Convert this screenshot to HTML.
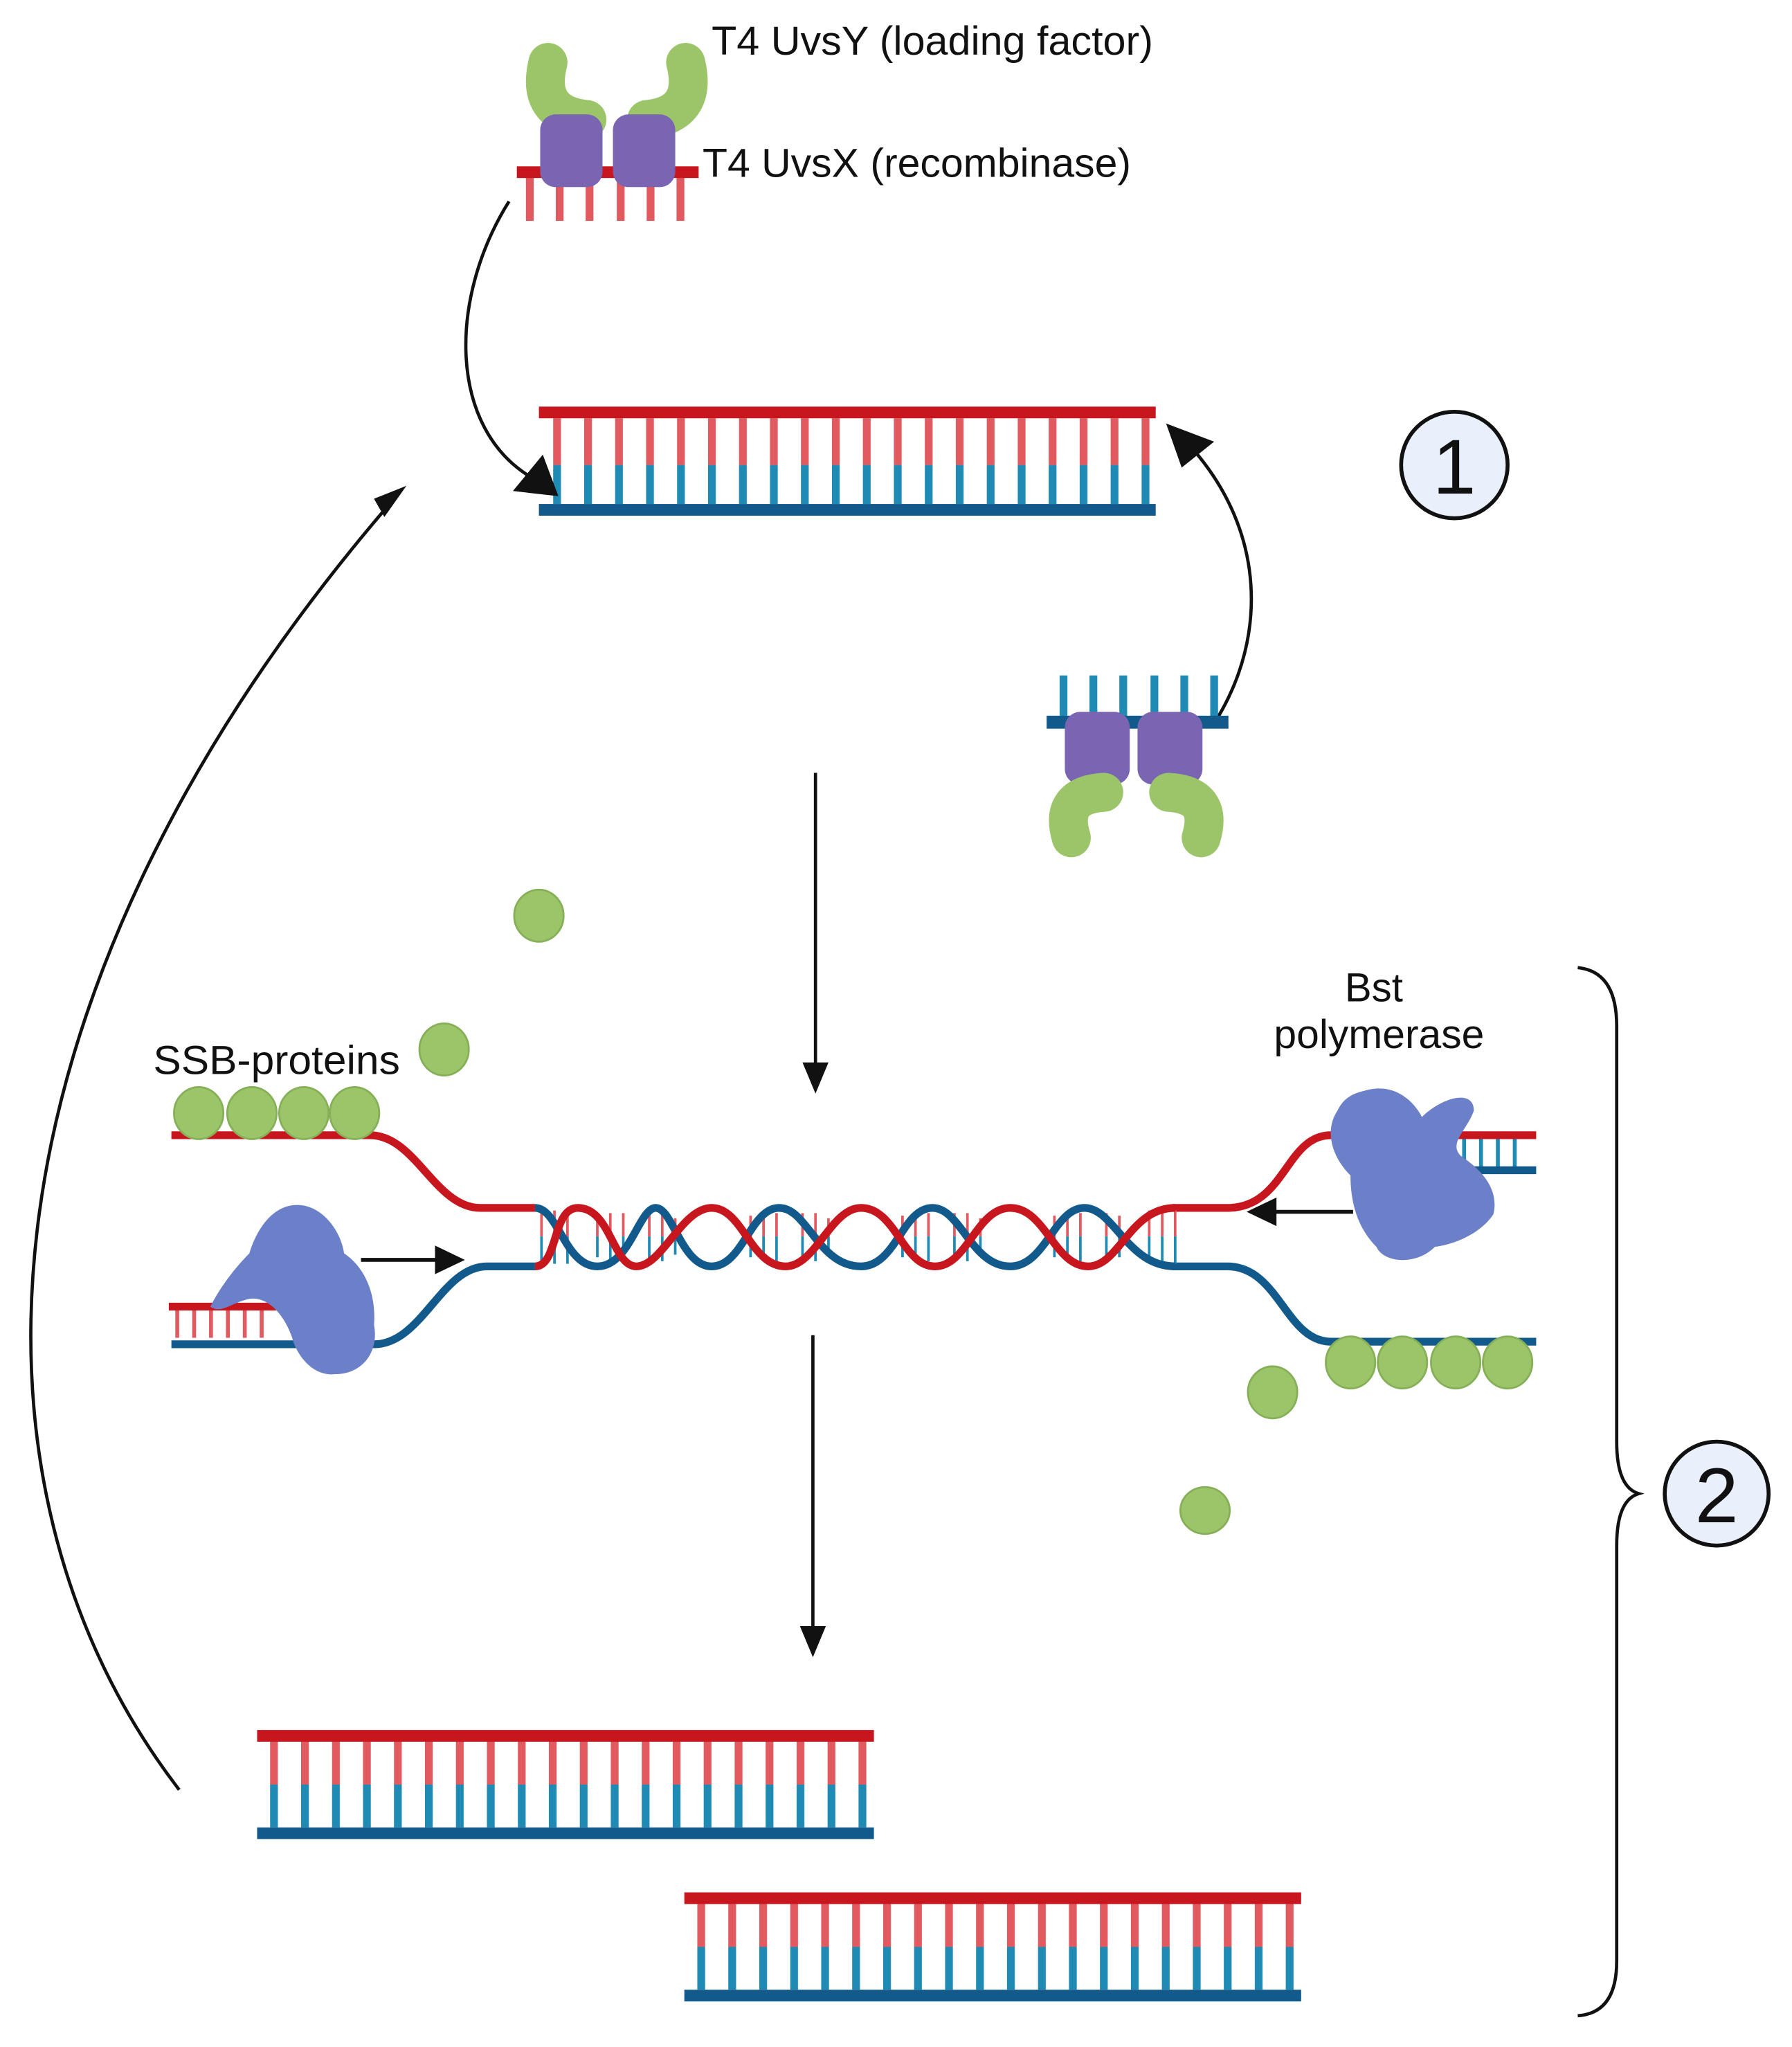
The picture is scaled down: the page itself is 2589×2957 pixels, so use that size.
<!DOCTYPE html>
<html><head><meta charset="utf-8"><style>
html,body{margin:0;padding:0;background:#fff}
svg{display:block}
text{font-family:"Liberation Sans",sans-serif;fill:#111}
</style></head><body>
<svg width="2589" height="2957" viewBox="0 0 1380 1576" xmlns="http://www.w3.org/2000/svg">
<defs>
<pattern id="ds" patternUnits="userSpaceOnUse" width="23.85" height="74" x="426" y="322">
<rect x="0" y="0" width="6" height="36" fill="#e05a5f"/>
<rect x="0" y="36" width="6" height="38" fill="#1f8bb5"/>
</pattern>
<pattern id="ds2" patternUnits="userSpaceOnUse" width="23.85" height="66" x="208" y="1341">
<rect x="0" y="0" width="6" height="33" fill="#e05a5f"/>
<rect x="0" y="33" width="6" height="33" fill="#1f8bb5"/>
</pattern>
<pattern id="ds3" patternUnits="userSpaceOnUse" width="23.85" height="66" x="537" y="1466">
<rect x="0" y="0" width="6" height="33" fill="#e05a5f"/>
<rect x="0" y="33" width="6" height="33" fill="#1f8bb5"/>
</pattern>
</defs>

<!-- labels -->
<text x="548" y="42" font-size="31" textLength="340" lengthAdjust="spacingAndGlyphs">T4 UvsY (loading factor)</text>
<text x="541" y="136" font-size="31" textLength="330" lengthAdjust="spacingAndGlyphs">T4 UvsX (recombinase)</text>
<text x="118" y="827" font-size="31" textLength="190" lengthAdjust="spacingAndGlyphs">SSB-proteins</text>
<text x="1058" y="771" font-size="31" text-anchor="middle">Bst</text>
<text x="1062" y="807" font-size="31" text-anchor="middle" textLength="162" lengthAdjust="spacingAndGlyphs">polymerase</text>

<!-- top primer -->
<g fill="#e05a5f">
<rect x="405" y="136" width="6" height="34"/><rect x="428" y="136" width="6" height="34"/><rect x="451" y="136" width="6" height="34"/><rect x="475" y="136" width="6" height="34"/><rect x="498" y="136" width="6" height="34"/><rect x="521" y="136" width="6" height="34"/>
</g>
<rect x="398" y="128" width="140" height="9" fill="#c8161e"/>
<path d="M422,48 Q412,88 452,92" stroke="#9cc56a" stroke-width="30" fill="none" stroke-linecap="round"/>
<path d="M528,48 Q538,88 498,92" stroke="#9cc56a" stroke-width="30" fill="none" stroke-linecap="round"/>
<rect x="416" y="88" width="48" height="56" rx="12" fill="#7a65b3"/>
<rect x="472" y="88" width="48" height="56" rx="12" fill="#7a65b3"/>

<!-- main ds DNA -->
<rect x="425" y="322" width="465" height="66" fill="url(#ds)"/>
<rect x="415" y="313" width="475" height="9" fill="#c8161e"/>
<rect x="415" y="388" width="475" height="9" fill="#125a8c"/>

<!-- curved arrows top -->
<path d="M392,155 C345,230 345,330 410,368" stroke="#111" stroke-width="2.5" fill="none"/>
<polygon points="430,382 395,378 418,350" fill="#111"/>
<path d="M938,552 C975,490 975,410 918,345" stroke="#111" stroke-width="2.5" fill="none"/>
<polygon points="898,326 935,340 910,360" fill="#111"/>

<!-- circle 1 -->
<circle cx="1120" cy="358" r="41" fill="#eaf0fb" stroke="#111" stroke-width="3"/>
<text x="1120" y="380" font-size="60" text-anchor="middle">1</text>

<!-- bottom-right primer -->
<g fill="#1f8bb5">
<rect x="816" y="520" width="6" height="34"/><rect x="839" y="520" width="6" height="34"/><rect x="862" y="520" width="6" height="34"/><rect x="886" y="520" width="6" height="34"/><rect x="909" y="520" width="6" height="34"/><rect x="932" y="520" width="6" height="34"/>
</g>
<rect x="806" y="551" width="140" height="10" fill="#125a8c"/>
<rect x="820" y="548" width="50" height="56" rx="12" fill="#7a65b3"/>
<rect x="876" y="548" width="50" height="56" rx="12" fill="#7a65b3"/>
<path d="M850,610 Q815,612 825,645" stroke="#9cc56a" stroke-width="30" fill="none" stroke-linecap="round"/>
<path d="M900,610 Q935,612 925,645" stroke="#9cc56a" stroke-width="30" fill="none" stroke-linecap="round"/>

<!-- down arrows -->
<line x1="628" y1="595" x2="628" y2="820" stroke="#111" stroke-width="2.5"/>
<polygon points="618,818 638,818 628,842" fill="#111"/>
<line x1="626" y1="1028" x2="626" y2="1255" stroke="#111" stroke-width="2.5"/>
<polygon points="616,1252 636,1252 626,1276" fill="#111"/>

<!-- big left arc -->
<path d="M138,1378 C-45,1140 -20,760 300,388" stroke="#111" stroke-width="2.5" fill="none"/>
<polygon points="313,374 296,398 288,384" fill="#111"/>

<!-- brace -->
<path d="M1215,745 Q1245,748 1245,790 L1245,1110 Q1245,1145 1262,1150 Q1245,1155 1245,1190 L1245,1510 Q1245,1550 1215,1552" stroke="#111" stroke-width="2.5" fill="none"/>
<circle cx="1322" cy="1150" r="40" fill="#eaf0fb" stroke="#111" stroke-width="3"/>
<text x="1322" y="1172" font-size="60" text-anchor="middle">2</text>

<!-- fork strands -->
<path d="M132,874 L285,874 C320,874 335,930 370,930 L412,930" stroke="#c8161e" stroke-width="6" fill="none"/>
<path d="M132,1035 L288,1035 C325,1035 340,975 375,975 L412,975" stroke="#125a8c" stroke-width="6" fill="none"/>
<path d="M903,930 L945,930 C990,930 990,874 1025,874 L1183,874" stroke="#c8161e" stroke-width="6" fill="none"/>
<path d="M903,975 L945,975 C985,975 990,1033 1025,1033 L1183,1033" stroke="#125a8c" stroke-width="6" fill="none"/>
<!-- helix rungs -->
<g stroke-width="2">
<path d="M417,932 V952 M427,932 V952 M437,932 V952 M885,932 V952 M895,932 V952 M905,932 V952 M460,936 V952 M470,934 V952 M480,934 V952 M500,934 V952 M510,934 V952 M520,938 V952 M578,936 V952 M588,934 V952 M598,934 V952 M618,934 V952 M628,934 V952 M638,938 V952 M695,936 V952 M705,934 V952 M715,934 V952 M735,934 V952 M745,934 V952 M755,938 V952 M812,936 V952 M822,934 V952 M832,934 V952 M852,934 V952 M862,936 V952" stroke="#e05a5f"/>
<path d="M417,952 V973 M427,952 V973 M437,952 V973 M885,952 V973 M895,952 V973 M905,952 V973 M460,952 V968 M470,952 V971 M480,952 V971 M500,952 V971 M510,952 V971 M520,952 V966 M578,952 V968 M588,952 V971 M598,952 V971 M618,952 V971 M628,952 V971 M638,952 V966 M695,952 V968 M705,952 V971 M715,952 V971 M735,952 V971 M745,952 V971 M755,952 V966 M812,952 V968 M822,952 V971 M832,952 V971 M852,952 V971 M862,952 V968" stroke="#1f8bb5"/>
</g>
<path d="M412,930 C430,930 435,975 460,975 C485,975 492,930 505,930 C518,930 525,975 548,975 C572,975 578,930 600,930 C622,930 630,975 663,975 C690,975 695,930 718,930 C740,930 748,975 778,975 C805,975 812,930 835,930 C858,930 868,975 905,975" stroke="#125a8c" stroke-width="6" fill="none"/>
<path d="M412,975 C430,975 425,930 445,930 C470,930 472,975 490,975 C510,975 525,930 548,930 C572,930 578,975 605,975 C628,975 640,930 663,930 C690,930 695,975 720,975 C745,975 752,930 778,930 C805,930 812,975 838,975 C862,975 870,930 905,930" stroke="#c8161e" stroke-width="6" fill="none"/>

<!-- left primer at fork -->
<g fill="#e05a5f">
<rect x="135" y="1008" width="3" height="22"/><rect x="148" y="1008" width="3" height="22"/><rect x="161" y="1008" width="3" height="22"/><rect x="174" y="1008" width="3" height="22"/><rect x="187" y="1008" width="3" height="22"/><rect x="200" y="1008" width="3" height="22"/>
</g>
<rect x="130" y="1003" width="88" height="6" fill="#c8161e"/>
<!-- right primer at fork -->
<g fill="#1f8bb5">
<rect x="1100" y="877" width="3" height="22"/><rect x="1113" y="877" width="3" height="22"/><rect x="1126" y="877" width="3" height="22"/><rect x="1139" y="877" width="3" height="22"/><rect x="1152" y="877" width="3" height="22"/><rect x="1165" y="877" width="3" height="22"/>
</g>
<rect x="1085" y="898" width="98" height="6" fill="#125a8c"/>

<!-- polymerases -->
<path d="M225,928 C245,925 262,945 265,965 C280,975 290,995 288,1020 C292,1040 280,1058 258,1058 C240,1060 228,1042 225,1030 C218,1010 205,998 192,1000 C178,1003 170,1012 162,1006 C170,990 182,975 192,965 C198,945 210,930 225,928 Z" fill="#6b80c8"/>
<path d="M1050,840 C1075,832 1090,850 1095,860 C1110,845 1135,838 1135,855 C1130,870 1115,880 1125,890 C1140,900 1155,915 1150,935 C1140,950 1120,958 1105,960 C1090,975 1065,972 1060,960 C1045,945 1040,925 1040,905 C1025,890 1020,870 1030,855 C1035,845 1042,842 1050,840 Z" fill="#6b80c8"/>

<!-- small black arrows -->
<line x1="278" y1="970" x2="340" y2="970" stroke="#111" stroke-width="3"/>
<polygon points="358,970 335,959 335,981" fill="#111"/>
<line x1="1042" y1="933" x2="980" y2="933" stroke="#111" stroke-width="3"/>
<polygon points="960,933 983,922 983,944" fill="#111"/>

<!-- SSB proteins -->
<g fill="#9cc56a" stroke="#86b058" stroke-width="1.5">
<ellipse cx="415" cy="705" rx="19" ry="20"/>
<ellipse cx="342" cy="808" rx="19" ry="20"/>
<ellipse cx="980" cy="1072" rx="19" ry="20"/>
<ellipse cx="928" cy="1163" rx="19" ry="18"/>
<ellipse cx="153" cy="857" rx="19" ry="20"/>
<ellipse cx="194" cy="857" rx="19" ry="20"/>
<ellipse cx="234" cy="857" rx="19" ry="20"/>
<ellipse cx="273" cy="857" rx="19" ry="20"/>
<ellipse cx="1040" cy="1049" rx="19" ry="20"/>
<ellipse cx="1080" cy="1049" rx="19" ry="20"/>
<ellipse cx="1121" cy="1049" rx="19" ry="20"/>
<ellipse cx="1161" cy="1049" rx="19" ry="20"/>
</g>

<!-- bottom ds DNAs -->
<rect x="206" y="1341" width="467" height="66" fill="url(#ds2)"/>
<rect x="198" y="1332" width="475" height="9" fill="#c8161e"/>
<rect x="198" y="1407" width="475" height="9" fill="#125a8c"/>
<rect x="535" y="1466" width="467" height="66" fill="url(#ds3)"/>
<rect x="527" y="1457" width="475" height="9" fill="#c8161e"/>
<rect x="527" y="1532" width="475" height="9" fill="#125a8c"/>
</svg>
</body></html>
